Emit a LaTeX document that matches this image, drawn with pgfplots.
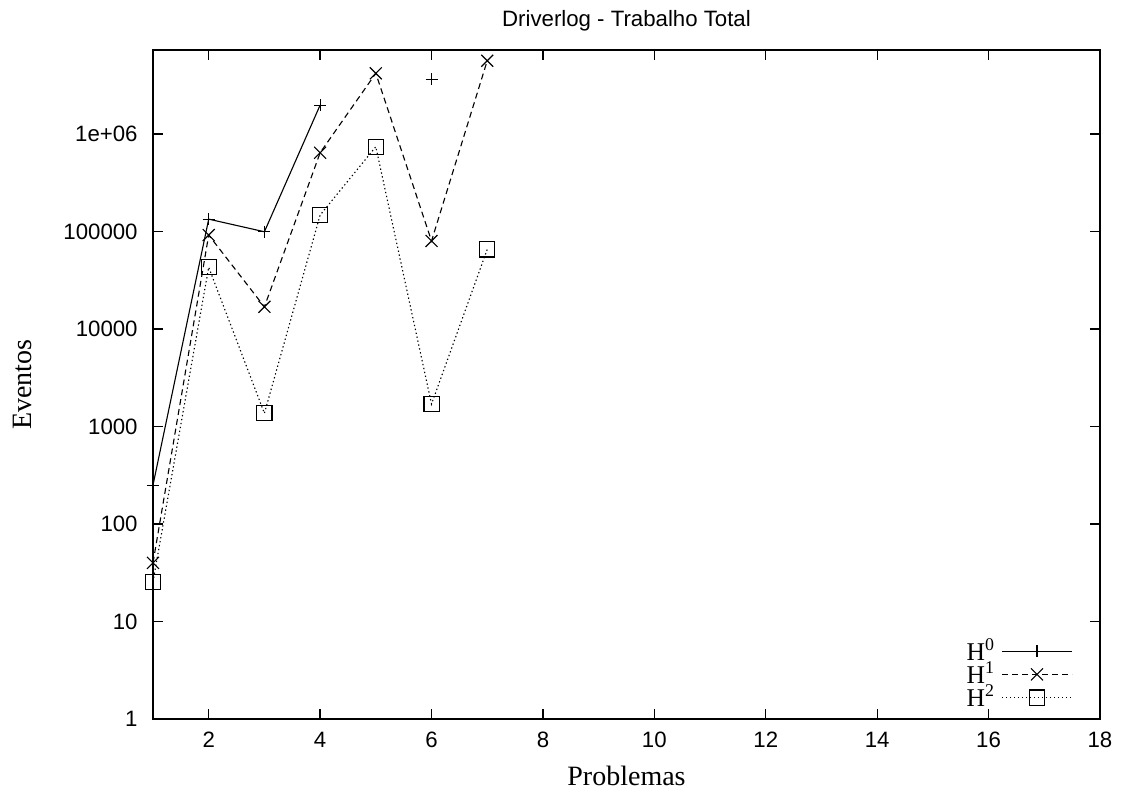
\documentclass[border=0pt]{standalone}
\usepackage{fontspec}
\setmainfont{Liberation Serif}
\setsansfont{Liberation Sans}
\usepackage{pgfplots}
\pgfplotsset{compat=1.18}

\begin{document}
\begin{tikzpicture}
\useasboundingbox (-68.85pt,-33.75pt) rectangle (438.3pt,323.55pt);
\begin{axis}[
  at={(0pt,0pt)}, anchor=south west,
  scale only axis,
  width=426.15pt, height=301.05pt,
  ymode=log,
  xmin=1, xmax=18,
  ymin=1, ymax=7.28e6,
  xtick={2,4,...,18},
  ytick={1,10,100,1000,10000,100000,1000000},
  yticklabels={1,10,100,1000,10000,100000,1e+06},
  yminorticks=false,
  tick align=inside,
  major tick length=4.5pt,
  axis line style={line width=0.7pt},
  every tick/.style={black, line width=0.6pt},
  /pgf/number format/assume math mode=true,
  tick label style={font=\sffamily\fontsize{10}{12}\selectfont},
  xticklabel style={yshift=-2.4pt},
  yticklabel style={xshift=-3.4pt},
  title={Driverlog - Trabalho Total},
  title style={font=\sffamily\fontsize{10}{12}\selectfont, at={(axis description cs:0.5,1.024)}, anchor=center, yshift=0pt},
  xlabel={Problemas},
  xlabel style={font=\fontsize{12.6}{15}\selectfont, at={(axis description cs:0.5,-0.085)}, anchor=center, yshift=0pt},
  ylabel={Eventos},
  ylabel style={font=\fontsize{12.6}{15}\selectfont, at={(axis description cs:-0.1383,0.5)}, anchor=center, rotate=0},
  unbounded coords=jump,
  legend plot pos=right,
  legend cell align=right,
  legend image code/.code={\draw[#1, mark=none] plot coordinates {(0pt,0pt) (31.5pt,0pt)};
    \draw[#1, mark options={solid}, only marks] plot coordinates {(15.75pt,0pt)};},
  legend style={draw=none, fill=none, inner sep=0pt, row sep=0pt,
    at={(axis description cs:0.9715,0.0142)}, anchor=south east,
    font=\fontsize{11.5}{12}\selectfont,
    nodes={inner xsep=2.8pt, inner ysep=1.2pt, text height=8pt, text depth=0pt}},
]

\addplot[black, line width=0.5pt, mark=+, mark size=2.7pt]
coordinates {(1,251)(2,134000)(3,99500)(4,1.98e6)(5,nan)(6,3.66e6)};
\addlegendentry{H\textsuperscript{0}}

\addplot[black, line width=0.5pt, dash pattern=on 2.7pt off 1.8pt, mark=x, mark size=3.8pt, mark options={solid}]
coordinates {(1,40)(2,92000)(3,16900)(4,643000)(5,4.2e6)(6,80000)(7,5.65e6)};
\addlegendentry{H\textsuperscript{1}}

\addplot[black, line width=0.5pt, dash pattern=on 0.6pt off 1.2pt, mark=square, mark size=3.4pt, mark options={solid}]
coordinates {(1,25.6)(2,43000)(3,1365)(4,147500)(5,741000)(6,1700)(7,65600)};
\addlegendentry{H\textsuperscript{2}}

\end{axis}
\end{tikzpicture}
\end{document}
